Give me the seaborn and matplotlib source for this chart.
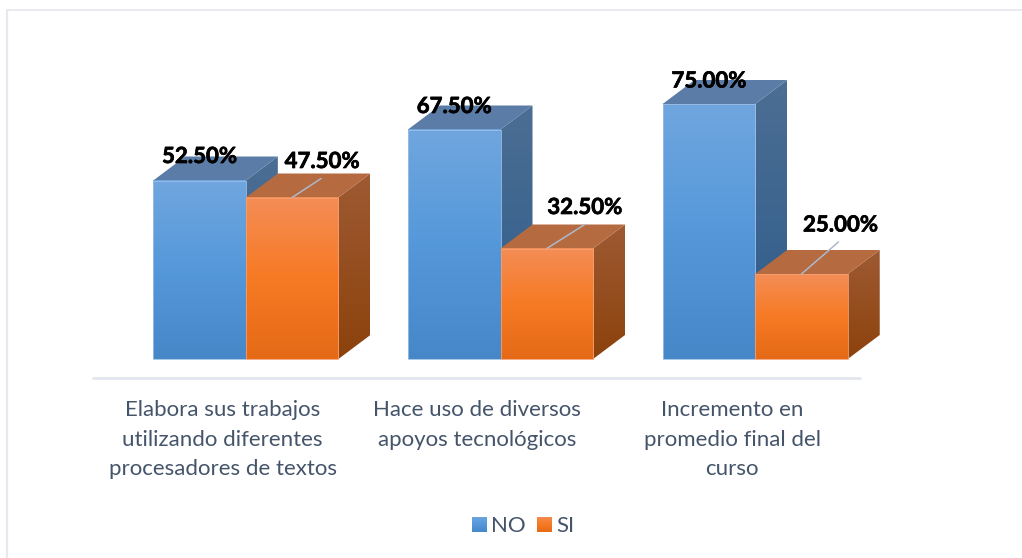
import numpy as np
import pandas as pd
import matplotlib
matplotlib.use("Agg")
import matplotlib.pyplot as plt
import matplotlib.patheffects as pe
from matplotlib.patches import Polygon
from matplotlib.colors import LinearSegmentedColormap
import seaborn as sns

categories = ["Elabora sus trabajos\nutilizando diferentes\nprocesadores de textos",
              "Hace uso de diversos\napoyos tecnológicos",
              "Incremento en\npromedio final del\ncurso"]
no_values = [52.5, 67.5, 75.0]
si_values = [47.5, 32.5, 25.0]
series_names = ["NO", "SI"]

W, H = 1022, 558
sns.set_theme(style="white")
plt.rcParams['font.family'] = ['Lato', 'DejaVu Sans']
TXT = "#44546a"

df = pd.DataFrame({"cat": categories * 2,
                   "serie": [series_names[0]] * 3 + [series_names[1]] * 3,
                   "val": no_values + si_values})

fig = plt.figure(figsize=(W / 100, H / 100), dpi=100, facecolor="white")
PXL, PXR, PX0, PXT = 118.5, 882.5, 359.0, 59.0
YMAX = 75 * (PX0 - PXT) / 255.0
ax = fig.add_axes([PXL / W, 1 - PX0 / H, (PXR - PXL) / W, (PX0 - PXT) / H])
ax.patch.set_alpha(0)
sns.barplot(data=df, x="cat", y="val", hue="serie", hue_order=series_names,
            palette=["#5b9bd5", "#f47c26"], width=0.727, gap=0, dodge=True,
            legend=False, ax=ax, saturation=1)
ax.set_xlim(-0.5, 2.5)
ax.set_ylim(0, YMAX)
ax.set_xlabel(""); ax.set_ylabel("")
ax.set_xticks([]); ax.set_yticks([])
sns.despine(ax=ax, left=True, bottom=True)

inv = ax.transData.inverted()
sx = inv.transform((32, 0))[0] - inv.transform((0, 0))[0]
sy = inv.transform((0, 24))[1] - inv.transform((0, 0))[1]

blue = LinearSegmentedColormap.from_list("b", ["#4687c8", "#5598da", "#70a6df"])
orange = LinearSegmentedColormap.from_list("o", ["#e56a17", "#f77a24", "#f48d56"])
side_maps = [LinearSegmentedColormap.from_list("bs", ["#2d5c8a", "#4c6e94"]),
             LinearSegmentedColormap.from_list("os", ["#8c420c", "#9e5a33"])]
top_cols = ["#5a7ca6", "#b66a40"]
maps = [blue, orange]
grad = np.linspace(0, 1, 256).reshape(-1, 1)

patches = list(ax.patches)
for idx, p in enumerate(patches):
    s = idx // 3
    x0, w, h = p.get_x(), p.get_width(), p.get_height()
    x1 = x0 + w
    z = 2 + s
    side = Polygon([(x1, 0), (x1 + sx, sy), (x1 + sx, h + sy), (x1, h)], closed=True,
                   facecolor="none", edgecolor="none", transform=ax.transData, zorder=z)
    ax.add_patch(side)
    im = ax.imshow(grad, cmap=side_maps[s], origin="lower", aspect="auto", zorder=z,
                   extent=(x1, x1 + sx, 0, h + sy), interpolation="bilinear")
    im.set_clip_path(side)
    ax.add_patch(Polygon([(x0, h), (x1, h), (x1 + sx, h + sy), (x0 + sx, h + sy)], closed=True,
                         facecolor=top_cols[s], edgecolor="none", zorder=z))
    ax.imshow(grad, cmap=maps[s], origin="lower", aspect="auto", zorder=z + 0.3,
              extent=(x0, x1, 0, h), interpolation="bilinear")
    p.set_facecolor("none")
    p.set_edgecolor("#9dbfe6" if s == 0 else "#f5a070")
    p.set_linewidth(0.6)
    p.set_zorder(z + 0.4)
    p.set_clip_on(False)

ax.set_xlim(-0.5, 2.5)
ax.set_ylim(0, YMAX)

# value label placement relative to the top centre of each bar, in pixels
label_off = [(0, 24), (0, 23), (0, 23), (30, 36), (38, 41), (39, 49)]
leader_off = [None, None, None, (29, 19), (38, 24), (37, 32)]
for idx, p in enumerate(patches):
    h = p.get_height()
    cx = p.get_x() + p.get_width() / 2
    xp, yp = ax.transData.transform((cx, h))
    if leader_off[idx] is not None:
        a, b = inv.transform((xp + leader_off[idx][0], yp + leader_off[idx][1]))
        ax.plot([cx, a], [h, b], color="#adb9ca", lw=1.1, zorder=10, clip_on=False)
    ax.annotate(f"{h:.2f}%", xy=(cx, h),
                xytext=(label_off[idx][0] * 0.72, label_off[idx][1] * 0.72),
                textcoords="offset points", ha="center", va="center",
                fontsize=16, fontweight="bold", color="black",
                path_effects=[pe.withStroke(linewidth=0.5, foreground="black")],
                zorder=12, annotation_clip=False)

# category labels
label_cx = [222.5, 477, 732]
for i, cat in enumerate(categories):
    for j, line in enumerate(cat.split("\n")):
        fig.text(label_cx[i] / W, 1 - (410 + 29.5 * j) / H, line,
                 ha="center", va="center", fontsize=16, color=TXT)

# floor and frame
fig.add_artist(plt.Line2D([93 / W, 860 / W], [1 - 378 / H] * 2, color="#e3e6ee", lw=2))
fig.add_artist(plt.Line2D([7 / W, 1], [1 - 9.5 / H] * 2, color="#e7e9f0", lw=1.3))
fig.add_artist(plt.Line2D([7 / W, 7 / W], [0, 1 - 9.5 / H], color="#e7e9f0", lw=1.6))

# legend
for x_px, name, cmap, tx in [(472, series_names[0], blue, 491), (537, series_names[1], orange, 556)]:
    lax = fig.add_axes([x_px / W, 1 - 532 / H, 15 / W, 15 / H])
    lax.imshow(grad, cmap=cmap, origin="lower", aspect="auto", interpolation="bilinear")
    lax.axis("off")
    fig.text(tx / W, 1 - 526 / H, name, ha="left", va="center", fontsize=16, color=TXT)

fig.savefig("out.png", dpi=100)
